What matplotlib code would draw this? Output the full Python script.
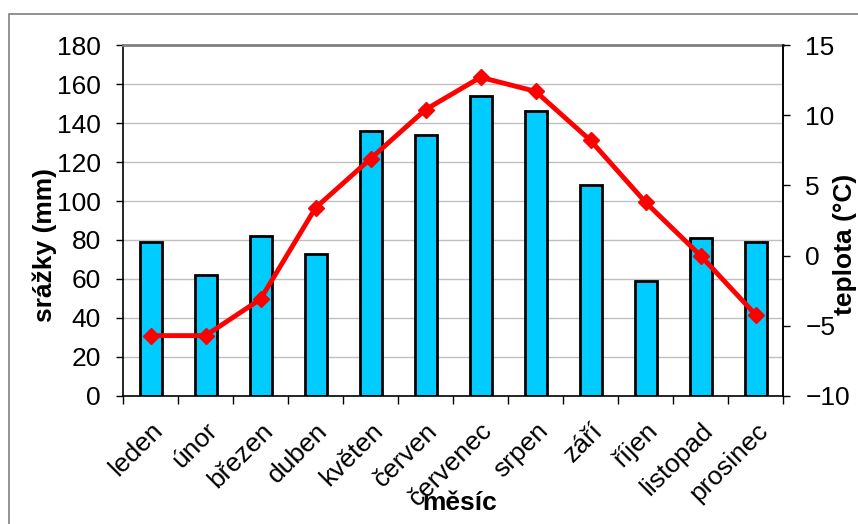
import numpy as np
import matplotlib
matplotlib.use("Agg")
import matplotlib.pyplot as plt
from matplotlib.patches import Rectangle

plt.rcParams['font.family'] = ['Liberation Sans', 'DejaVu Sans']

# monthly data
months = ["leden", "únor", "březen", "duben", "květen", "červen",
          "červenec", "srpen", "září", "říjen", "listopad", "prosinec"]
srazky = [79, 62, 82, 73, 136, 134, 154, 146, 108, 59, 81, 79]
teplota = [-5.7, -5.7, -3.1, 3.4, 6.9, 10.4, 12.7, 11.7, 8.2, 3.8, 0.0, -4.2]

FS = 19

fig = plt.figure(figsize=(8.58, 5.24), dpi=100)
ax = fig.add_axes([0.1434, 0.2443, 0.7692, 0.6698])

# outer chart border
fig.patches.append(Rectangle((9 / 858, -0.05), 1.0, 1 - 14 / 524 + 0.05,
                             transform=fig.transFigure, fill=False,
                             edgecolor='#808080', linewidth=1.2))

x = np.arange(len(months))
ax.bar(x, srazky, width=0.4, color='#00CCFF', edgecolor='black',
       linewidth=2, zorder=2)
ax.set_xlim(-0.5, len(months) - 0.5)
ax.set_ylim(0, 180)
ax.set_yticks(range(0, 181, 20))
ax.yaxis.grid(True, color='#C0C0C0', linewidth=1)
ax.set_axisbelow(True)

ax.set_xticks(np.arange(-0.5, len(months), 1))
ax.set_xticklabels([])
ax.set_xticks(x, minor=True)
ax.set_xticklabels(months, minor=True, rotation=45, ha='right',
                   rotation_mode='anchor', fontsize=FS)
ax.tick_params(axis='x', which='minor', length=0, pad=16)
ax.tick_params(axis='x', which='major', length=5.5, width=1, direction='out')
ax.tick_params(axis='y', labelsize=FS, length=5, width=1, direction='out',
               pad=11)

for side in ['left', 'bottom', 'right']:
    ax.spines[side].set_color('black')
    ax.spines[side].set_linewidth(1.2)
ax.spines['top'].set_color('#808080')
ax.spines['top'].set_linewidth(2)

ax.set_ylabel("srážky (mm)", fontsize=FS, fontweight='bold', va='center')
ax.yaxis.set_label_coords(-0.118, 0.43)
ax.set_xlabel("měsíc", fontsize=FS, fontweight='bold', va='center')
ax.xaxis.set_label_coords(0.51, -0.305)

# temperature line on the right axis
ax2 = ax.twinx()
ax2.plot(x, teplota, color='#FF0000', linewidth=3.5, marker='D',
         markersize=8.5, solid_joinstyle='round', zorder=3)
ax2.set_ylim(-10, 15)
ax2.set_yticks(range(-10, 16, 5))
ax2.tick_params(axis='y', labelsize=FS, length=5, width=1, direction='out',
                pad=11)
for side in ['left', 'top', 'bottom']:
    ax2.spines[side].set_visible(False)
ax2.spines['right'].set_linewidth(1.2)
ax2.set_ylabel("teplota (°C)", fontsize=FS, fontweight='bold', va='center',
               rotation=90)
ax2.yaxis.set_label_coords(1.094, 0.433)

fig.savefig("out.png", dpi=100)
